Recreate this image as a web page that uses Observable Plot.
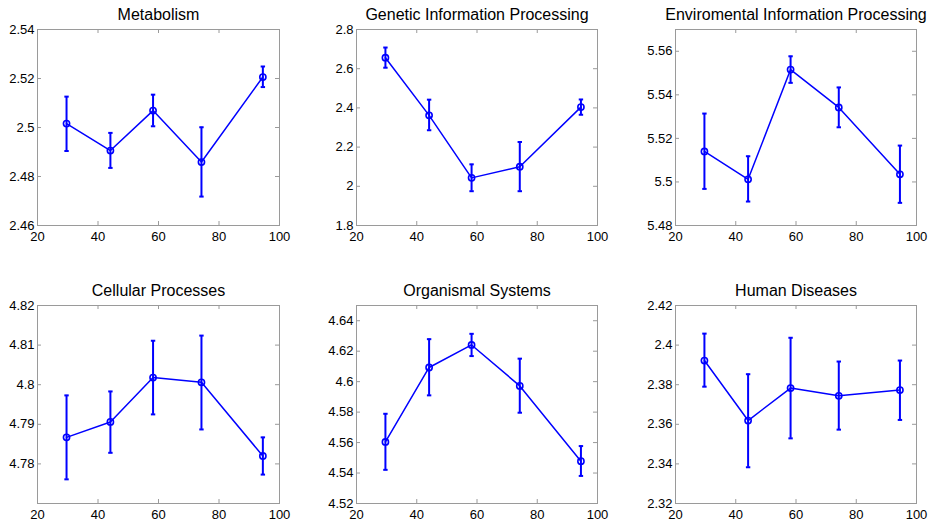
<!DOCTYPE html>
<html>
<head>
<meta charset="utf-8">
<script src="https://cdn.jsdelivr.net/npm/d3@7"></script>
<script src="https://cdn.jsdelivr.net/npm/@observablehq/plot@0.6"></script>
<style>
  html, body { margin: 0; padding: 0; background: #fff; }
  #chart { position: relative; width: 929px; height: 523px; overflow: hidden; }
  .panel { position: absolute; }
</style>
</head>
<body>
<div id="chart"></div>
<script>
// ---------- data ----------
const sampleX = [29.6, 44.1, 58.2, 74.2, 94.5];
const xTicks = [20, 40, 60, 80, 100];

const titles = [
  "Metabolism",
  "Genetic Information Processing",
  "Enviromental Information Processing",
  "Cellular Processes",
  "Organismal Systems",
  "Human Diseases"
];

const metabolismMean = [2.5016, 2.4906, 2.5069, 2.4859, 2.5206];
const metabolismLow  = [2.4904, 2.4835, 2.5005, 2.4718, 2.5165];
const metabolismHigh = [2.5126, 2.4978, 2.5134, 2.5001, 2.5249];
const metabolismTicks = [2.46, 2.48, 2.50, 2.52, 2.54];

const geneticMean = [2.656, 2.362, 2.043, 2.100, 2.404];
const geneticLow  = [2.605, 2.286, 1.975, 1.975, 2.365];
const geneticHigh = [2.708, 2.442, 2.112, 2.226, 2.443];
const geneticTicks = [1.8, 2.0, 2.2, 2.4, 2.6, 2.8];

const environmentalMean = [5.5140, 5.5012, 5.5516, 5.5342, 5.5035];
const environmentalLow  = [5.4968, 5.4910, 5.5455, 5.5251, 5.4904];
const environmentalHigh = [5.5314, 5.5118, 5.5577, 5.5434, 5.5167];
const environmentalTicks = [5.48, 5.50, 5.52, 5.54, 5.56];

const cellularMean = [4.7867, 4.7906, 4.8018, 4.8006, 4.7820];
const cellularLow  = [4.7761, 4.7828, 4.7925, 4.7887, 4.7773];
const cellularHigh = [4.7973, 4.7983, 4.8111, 4.8124, 4.7867];
const cellularTicks = [4.78, 4.79, 4.80, 4.81, 4.82];

const organismalMean = [4.5604, 4.6093, 4.6241, 4.5972, 4.5478];
const organismalLow  = [4.5421, 4.5910, 4.6168, 4.5796, 4.5381];
const organismalHigh = [4.5789, 4.6279, 4.6314, 4.6151, 4.5577];
const organismalTicks = [4.52, 4.54, 4.56, 4.58, 4.60, 4.62, 4.64];

const diseaseMean = [2.3922, 2.3619, 2.3783, 2.3744, 2.3773];
const diseaseLow  = [2.3790, 2.3383, 2.3529, 2.3573, 2.3622];
const diseaseHigh = [2.4058, 2.3853, 2.4037, 2.3917, 2.3922];
const diseaseTicks = [2.32, 2.34, 2.36, 2.38, 2.40, 2.42];

const yDomains = [
  [2.46, 2.54], [1.8, 2.8], [5.48, 5.57],
  [4.77, 4.82], [4.52, 4.65], [2.32, 2.42]
];

const series = [
  [metabolismMean, metabolismLow, metabolismHigh, metabolismTicks],
  [geneticMean, geneticLow, geneticHigh, geneticTicks],
  [environmentalMean, environmentalLow, environmentalHigh, environmentalTicks],
  [cellularMean, cellularLow, cellularHigh, cellularTicks],
  [organismalMean, organismalLow, organismalHigh, organismalTicks],
  [diseaseMean, diseaseLow, diseaseHigh, diseaseTicks]
];

// ---------- layout ----------
const colLayout = [
  {left: 0,   ml: 37, mr: 31},
  {left: 310, ml: 46, mr: 23},
  {left: 619, ml: 56, mr: 13}
];
const rowLayout = [
  {top: 0,   h: 262, mt: 29, mb: 37},
  {top: 262, h: 261, mt: 43, mb: 20}
];
const W = 310;
const BLUE = "#0000ff";
const FRAME = "#9a9a9a";
const FONT = "'Liberation Sans', Arial, Helvetica, sans-serif";
const TICK = 4;

const capSymbol = {
  draw(context) {
    context.moveTo(-2.2, 0);
    context.lineTo(2.2, 0);
  }
};

const fmt = d => String(+d.toFixed(4));

const chart = document.getElementById("chart");

series.forEach(([mean, low, high, ticks], i) => {
  const col = colLayout[i % 3];
  const row = rowLayout[Math.floor(i / 3)];
  const fw = W - col.ml - col.mr;
  const fh = row.h - row.mt - row.mb;
  const rows = sampleX.map((x, k) => ({x, y: mean[k], lo: low[k], hi: high[k]}));

  const plot = Plot.plot({
    width: W,
    height: row.h,
    marginLeft: col.ml,
    marginRight: col.mr,
    marginTop: row.mt,
    marginBottom: row.mb,
    style: {fontFamily: FONT, fontSize: "13px", color: "#000", background: "transparent", overflow: "visible"},
    x: {domain: [20, 100], ticks: xTicks, label: null},
    y: {domain: yDomains[i], ticks: ticks, label: null},
    marks: [
      // inward ticks on four sides
      Plot.ruleY(ticks, {y: d => d, stroke: FRAME, insetRight: fw - TICK}),
      Plot.ruleY(ticks, {y: d => d, stroke: FRAME, insetLeft: fw - TICK}),
      Plot.ruleX(xTicks, {x: d => d, stroke: FRAME, insetTop: fh - TICK}),
      Plot.ruleX(xTicks, {x: d => d, stroke: FRAME, insetBottom: fh - TICK}),
      Plot.frame({stroke: FRAME, strokeWidth: 1}),
      Plot.axisY({ticks: ticks, tickSize: 0, tickPadding: 3, tickFormat: fmt, fill: "#000", fontSize: 13, label: null}),
      Plot.axisX({ticks: xTicks, tickSize: 0, tickPadding: 6, tickFormat: fmt, fill: "#000", fontSize: 13, label: null}),
      // error bars
      Plot.ruleX(rows, {x: "x", y1: "lo", y2: "hi", stroke: BLUE, strokeWidth: 2}),
      Plot.dot(rows, {x: "x", y: "lo", symbol: capSymbol, r: 3, stroke: BLUE, strokeWidth: 2, fill: "none"}),
      Plot.dot(rows, {x: "x", y: "hi", symbol: capSymbol, r: 3, stroke: BLUE, strokeWidth: 2, fill: "none"}),
      // line and markers
      Plot.line(rows, {x: "x", y: "y", stroke: BLUE, strokeWidth: 1.5}),
      Plot.dot(rows, {x: "x", y: "y", r: 3.1, stroke: BLUE, strokeWidth: 1.6, fill: "none"}),
      // title
      Plot.text([titles[i]], {text: d => d, frameAnchor: "top", lineAnchor: "bottom", dy: -10, fontSize: 16, fill: "#000"})
    ]
  });

  const holder = document.createElement("div");
  holder.className = "panel";
  holder.style.left = col.left + "px";
  holder.style.top = row.top + "px";
  holder.appendChild(plot);
  chart.appendChild(holder);
});
</script>
</body>
</html>
